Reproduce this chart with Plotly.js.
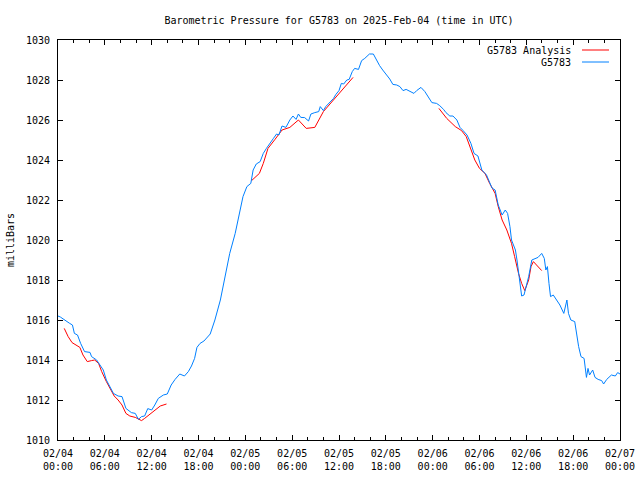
<!DOCTYPE html>
<html>
<head>
<meta charset="utf-8">
<script src="https://cdn.plot.ly/plotly-3.0.1.min.js"></script>
<style>html,body{margin:0;padding:0;background:#fff}#chart{width:640px;height:480px}</style>
</head>
<body>
<div id="chart"></div>
<script>
// Hours since 2025-02-04 00:00 UTC
var obsHours = [0,0.3,1.5,1.85,2.1,2.5,2.9,3.4,4.1,4.3,4.95,5.4,5.8,6.2,6.7,7.1,7.7,8.2,8.7,9.0,9.4,9.9,10.3,10.7,11.1,11.5,12.0,12.4,12.85,13.5,14.0,14.5,15.0,15.6,16.2,16.7,17.1,17.5,17.8,18.2,18.7,19.5,20.1,20.8,21.4,22.0,22.7,23.2,23.7,24.2,24.7,25.0,25.4,25.9,26.3,26.7,27.2,27.6,28.0,28.3,28.7,29.2,29.7,30.1,30.5,30.8,31.1,31.6,32.1,32.4,32.9,33.4,33.6,34.0,34.3,34.8,35.3,35.6,36.0,36.3,36.6,37.0,37.3,37.7,38.0,38.5,38.9,39.3,39.9,40.4,40.8,41.2,41.6,42.1,42.5,42.9,43.4,43.8,44.2,44.6,45.1,45.6,45.95,46.5,47.0,47.4,47.9,48.5,48.9,49.4,49.7,50.2,50.6,51.1,51.5,51.9,52.4,52.9,53.3,53.8,54.3,54.9,55.6,56.0,56.4,56.9,57.3,57.6,57.9,58.1,58.6,58.8,59.1,59.4,59.7,60.0,60.3,60.7,61.1,61.5,61.97,62.3,62.5,62.7,62.9,63.1,63.45,63.9,64.3,64.8,65.2,65.4,65.7,66.2,66.5,66.7,67.0,67.4,67.7,67.9,68.1,68.5,68.8,69.2,69.65,69.9,70.3,70.9,71.4,71.7,72];
var obsPressure = [1016.2,1016.15,1015.83,1015.75,1015.33,1015.25,1014.83,1014.42,1014.38,1014.17,1014.0,1013.75,1013.5,1013.0,1012.58,1012.33,1012.2,1012.17,1011.58,1011.5,1011.37,1011.33,1011.03,1011.17,1011.2,1011.57,1011.5,1011.75,1012.08,1012.25,1012.3,1012.75,1013.03,1013.3,1013.2,1013.42,1013.7,1014.08,1014.63,1014.83,1014.95,1015.3,1016.0,1017.0,1018.17,1019.33,1020.33,1021.33,1022.17,1022.67,1022.83,1023.5,1023.8,1023.92,1024.33,1024.58,1024.83,1025.08,1025.3,1025.25,1025.7,1025.63,1026.0,1026.2,1026.03,1026.3,1026.13,1026.12,1025.95,1026.3,1026.37,1026.42,1026.67,1026.47,1026.67,1026.87,1027.08,1027.28,1027.47,1027.83,1027.8,1028.0,1028.03,1028.42,1028.58,1028.53,1028.97,1029.08,1029.3,1029.3,1029.0,1028.72,1028.5,1028.25,1028.05,1027.78,1027.75,1027.67,1027.47,1027.53,1027.42,1027.33,1027.47,1027.63,1027.42,1027.17,1026.87,1026.83,1026.72,1026.53,1026.37,1026.2,1026.2,1026.0,1025.63,1025.47,1025.25,1024.83,1024.33,1024.2,1023.5,1023.25,1022.6,1022.5,1021.75,1021.25,1021.5,1021.33,1020.67,1020.0,1019.5,1019.0,1018.17,1017.2,1017.25,1017.67,1018.17,1019.0,1019.08,1019.13,1019.33,1019.08,1018.5,1018.67,1017.83,1017.17,1017.25,1017.0,1016.75,1016.33,1017.0,1016.33,1016.0,1015.92,1015.17,1014.67,1014.17,1014.08,1013.13,1013.58,1013.25,1013.5,1013.13,1013.03,1012.97,1012.8,1013.03,1013.25,1013.2,1013.37,1013.3];

var anaHours = [0.8,1.3,1.8,2.4,2.8,3.2,3.75,4.3,4.7,5.2,5.6,6.2,6.8,7.2,7.7,8.2,8.7,9.2,9.9,10.3,10.7,11.1,11.8,12.4,13.1,13.9,18,
  24.8,25.8,26.3,26.9,27.8,28.7,29.7,30.8,31.8,32.9,34.0,35.7,37.0,37.8,43,
  48.8,49.8,50.9,51.7,52.3,52.8,53.4,54.0,54.7,55.3,56.0,56.4,56.9,57.5,57.8,58.1,58.5,59.0,59.4,59.8,60.3,60.6,60.9,61.4,61.97];
var anaPressure = [1015.58,1015.17,1014.87,1014.75,1014.63,1014.25,1013.92,1013.97,1014.0,1013.83,1013.42,1012.92,1012.5,1012.2,1012.0,1011.75,1011.33,1011.2,1011.13,1011.03,1010.97,1011.08,1011.3,1011.5,1011.7,1011.8,null,
  1022.97,1023.33,1023.83,1024.58,1025.03,1025.5,1025.63,1026.0,1025.58,1025.63,1026.42,1027.17,1027.75,1028.13,null,
  1026.58,1026.08,1025.67,1025.47,1025.17,1024.67,1024.0,1023.58,1023.33,1022.83,1022.33,1021.67,1021.0,1020.5,1020.17,1019.83,1019.17,1018.33,1017.83,1017.47,1018.0,1018.67,1018.92,1018.7,1018.47];

var tickHours = [0,6,12,18,24,30,36,42,48,54,60,66,72];
var tickLabels = ["02/04<br>00:00","02/04<br>06:00","02/04<br>12:00","02/04<br>18:00","02/05<br>00:00","02/05<br>06:00","02/05<br>12:00","02/05<br>18:00","02/06<br>00:00","02/06<br>06:00","02/06<br>12:00","02/06<br>18:00","02/07<br>00:00"];
var yTicks = [1010,1012,1014,1016,1018,1020,1022,1024,1026,1028,1030];

var seriesNames = ["G5783 Analysis","G5783"];
var seriesColors = ["#ff0000","#0080ff"];

var FONT = "DejaVu Sans Mono, Liberation Mono, monospace";
var FS = 10;

var traces = [
  {x: anaHours, y: anaPressure, type:"scatter", mode:"lines", name: seriesNames[0],
   line:{color:seriesColors[0], width:1}, connectgaps:false, hoverinfo:"skip"},
  {x: obsHours, y: obsPressure, type:"scatter", mode:"lines", name: seriesNames[1],
   line:{color:seriesColors[1], width:1}, hoverinfo:"skip"}
];

var layout = {
  width:640, height:480,
  margin:{l:58, r:20, t:40, b:40, pad:0},
  paper_bgcolor:"#ffffff", plot_bgcolor:"#ffffff",
  showlegend:false,
  font:{family:FONT, size:FS, color:"#000"},
  title:{text:"Barometric Pressure for G5783 on 2025-Feb-04 (time in UTC)",
         xref:"paper", yref:"container", x:0.5, xanchor:"center",
         y:1-20/480, yanchor:"middle", font:{family:FONT, size:FS, color:"#000"}},
  xaxis:{range:[0,72], tickmode:"array", tickvals:tickHours, ticktext:tickLabels,
         showgrid:false, zeroline:false, showline:true, linecolor:"#000", linewidth:1,
         mirror:"allticks", ticks:"inside", ticklen:5, tickcolor:"#000", tickwidth:1,
         ticklabelstandoff:4,
         minor:{dtick:2, tick0:0, ticks:"inside", ticklen:3, tickcolor:"#000", tickwidth:1, showgrid:false},
         tickfont:{family:FONT, size:FS, color:"#000"}},
  yaxis:{range:[1010,1030], tickmode:"array", tickvals:yTicks,
         showgrid:false, zeroline:false, showline:true, linecolor:"#000", linewidth:1,
         mirror:"allticks", ticks:"inside", ticklen:5, tickcolor:"#000", tickwidth:1,
         ticklabelstandoff:5,
         tickfont:{family:FONT, size:FS, color:"#000"},
         title:{text:"milliBars", standoff:9, font:{family:FONT, size:FS, color:"#000"}}},
  annotations:[
    {xref:"paper", yref:"paper", x:(573-58)/562, y:1-10/400, xanchor:"right", yanchor:"middle",
     text:seriesNames[0], showarrow:false, font:{family:FONT, size:FS, color:"#000"}},
    {xref:"paper", yref:"paper", x:(573-58)/562, y:1-22/400, xanchor:"right", yanchor:"middle",
     text:seriesNames[1], showarrow:false, font:{family:FONT, size:FS, color:"#000"}}
  ],
  shapes:[
    {type:"line", xref:"paper", yref:"paper", x0:(582-58)/562, x1:(609-58)/562, y0:1-10/400, y1:1-10/400,
     line:{color:seriesColors[0], width:1}},
    {type:"line", xref:"paper", yref:"paper", x0:(582-58)/562, x1:(609-58)/562, y0:1-22/400, y1:1-22/400,
     line:{color:seriesColors[1], width:1}}
  ]
};

Plotly.newPlot("chart", traces, layout, {staticPlot:true, displayModeBar:false});
</script>
</body>
</html>
